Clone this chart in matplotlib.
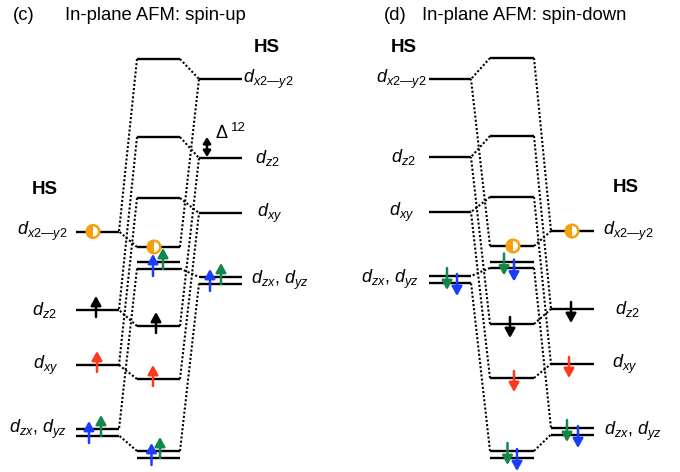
import matplotlib
matplotlib.use("Agg")
import matplotlib.pyplot as plt
from matplotlib.patches import Circle, Wedge

plt.rcParams['font.family'] = ['Liberation Sans', 'DejaVu Sans']
plt.rcParams['mathtext.fontset'] = 'custom'
plt.rcParams['mathtext.it'] = 'Liberation Sans:italic'
plt.rcParams['mathtext.rm'] = 'Liberation Sans'

# orbital order for the atomic columns
orbitals = ["x2y2", "z2", "xy", "zxyz"]
orb_labels = {"x2y2": "$d_{x2\u2014y2}$", "z2": "$d_{z2}$",
              "xy": "$d_{xy}$", "zxyz": "$d_{zx}$, $d_{yz}$"}

# level heights (drawn downward, higher value = lower energy)
c_left = [231.5, 310, 365, 429]
c_mid = [59, 137, 198, 247, 262, 326, 379, 451]
c_right = [79, 158, 213, 277]
d_left = [79, 157, 212, 276]
d_mid = [58, 136, 197, 246, 261.5, 324, 378, 451]
d_right = [231, 309, 364, 428]

# which mid levels pair with which orbital, and which are doubly degenerate
mid_orb = ["x2y2", "z2", "xy", "x2y2", "zxyz", "z2", "xy", "zxyz"]
mid_double = [False, False, False, False, True, False, False, True]

# electrons: (column, level index, x offset, kind)
# kind: colour name for arrows, 'half' for the half-filled orbital
c_elec = [("L", 0, 17, "half"), ("L", 1, 20, "k"), ("L", 2, 21, "red"),
          ("L", 3, 13, "blue"), ("L", 3, 25, "green"),
          ("M", 3, 17, "half"), ("M", 4, 16, "blue"), ("M", 4, 26, "green"),
          ("M", 5, 19, "k"), ("M", 6, 16, "red"),
          ("M", 7, 14.5, "blue"), ("M", 7, 23, "green"),
          ("R", 3, 11, "blue"), ("R", 3, 22, "green")]
d_elec = [("L", 3, 18, "green"), ("L", 3, 28, "blue"),
          ("M", 3, 23, "half"), ("M", 4, 14, "green"), ("M", 4, 24, "blue"),
          ("M", 5, 20, "k"), ("M", 6, 24, "red"),
          ("M", 7, 17.5, "green"), ("M", 7, 27, "blue"),
          ("R", 0, 21, "half"), ("R", 1, 20, "k"), ("R", 2, 18, "red"),
          ("R", 3, 16, "green"), ("R", 3, 27, "blue")]

colors = {"k": "black", "red": "#ff3a1c", "blue": "#1a3cff",
          "green": "#11884a", "half": "#f5a00c"}
DBL = 6.5

fig = plt.figure(figsize=(6.8, 4.72), dpi=100)
ax = fig.add_axes([0, 0, 1, 1])
ax.set_xlim(0, 680)
ax.set_ylim(472, 0)
ax.axis('off')


def hline(x0, x1, y, double):
    ax.plot([x0, x1], [y, y], color='black', lw=1.7, solid_capstyle='butt')
    if double:
        ax.plot([x0, x1], [y + DBL, y + DBL], color='black', lw=1.7,
                solid_capstyle='butt')


def end_y(y, double, target):
    # pick the line of a double level facing the partner
    if double and target > y:
        return y + DBL
    return y


def electron(x, y, double, kind, up):
    if kind == "half":
        ax.add_patch(Circle((x, y), 6.3, facecolor='white',
                            edgecolor=colors["half"], lw=1.8, zorder=5))
        ax.add_patch(Wedge((x, y), 7.0, 90, 270, facecolor=colors["half"],
                           edgecolor='none', zorder=6))
        return
    if double:
        if up:
            tail, tip = (14, -8) if kind == "blue" else (7, -14)
        else:
            tail, tip = (-2, 20) if kind == "blue" else (-8, 14)
    else:
        tail, tip = (7, -14) if up else (-7, 14)
    ax.annotate('', xy=(x, y + tip), xytext=(x, y + tail),
                arrowprops=dict(arrowstyle='-|>,head_length=0.5,head_width=0.28',
                                color=colors[kind], lw=1.8,
                                mutation_scale=11, shrinkA=0, shrinkB=0),
                zorder=4)


def panel(left, mid, right, xl, xm, xr, elecs, up):
    cols = {"L": (left, xl), "M": (mid, xm), "R": (right, xr)}
    for ys, xs in ((left, xl), (right, xr)):
        for y in ys:
            hline(xs[0], xs[1], y, ys.index(y) == 3)
    for i, y in enumerate(mid):
        hline(xm[0], xm[1], y, mid_double[i])
        k = orbitals.index(mid_orb[i])
        # dotted links to both atomic columns
        for ys, xa, xb in ((left, xm[0], xl[1]), (right, xm[1], xr[0])):
            ya = ys[k]
            ax.plot([xa, xb], [end_y(y, mid_double[i], ya),
                               end_y(ya, k == 3, y)],
                    color='black', lw=1.5, linestyle=(0, (1, 1)))
    for col, idx, dx, kind in elecs:
        ys, xs = cols[col]
        dbl = mid_double[idx] if col == "M" else idx == 3
        electron(xs[0] + dx, ys[idx], dbl, kind, up)


panel(c_left, c_mid, c_right, (76, 119), (137, 180), (199, 242), c_elec, True)
panel(d_left, d_mid, d_right, (429, 471), (490, 534), (551, 594), d_elec, False)

# orbital labels
lab_kw = dict(fontsize=13, va='center', ha='center')
for k, o in enumerate(orbitals):
    ax.text([42, 44, 46, 38][k], c_left[k], orb_labels[o], **lab_kw)
    ax.text([268, 267, 270, 280][k], c_right[k] + (3 if k == 3 else 0),
            orb_labels[o], **lab_kw)
    ax.text([401, 403, 402, 390][k], d_left[k] + (3 if k == 3 else 0),
            orb_labels[o], **lab_kw)
    ax.text([628, 627, 625, 633][k], d_right[k] + (3 if k == 3 else 0),
            orb_labels[o], **lab_kw)

hs_kw = dict(fontsize=13.5, fontweight='bold', ha='center', va='center')
ax.text(267, 48, "HS", **hs_kw)
ax.text(45, 189, "HS", **hs_kw)
ax.text(404, 48, "HS", **hs_kw)
ax.text(626, 187, "HS", **hs_kw)

ax.text(13, 16, "(c)", fontsize=13.3, va='center')
ax.text(65, 16, "In-plane AFM: spin-up", fontsize=13.3, va='center')
ax.text(384, 16, "(d)", fontsize=13.3, va='center')
ax.text(422, 16, "In-plane AFM: spin-down", fontsize=13.3, va='center')

# crystal-field gap marker
ax.annotate('', xy=(207, c_mid[1]), xytext=(207, c_right[1] - 1),
            arrowprops=dict(arrowstyle='<|-|>,head_length=0.4,head_width=0.25',
                            color='black', lw=1.8,
                            mutation_scale=9, shrinkA=0, shrinkB=0))
ax.text(215, 134, "\u0394", fontsize=13, va='center')
ax.text(231, 128, "12", fontsize=9.5, va='center')

fig.savefig("out.png", dpi=100)
